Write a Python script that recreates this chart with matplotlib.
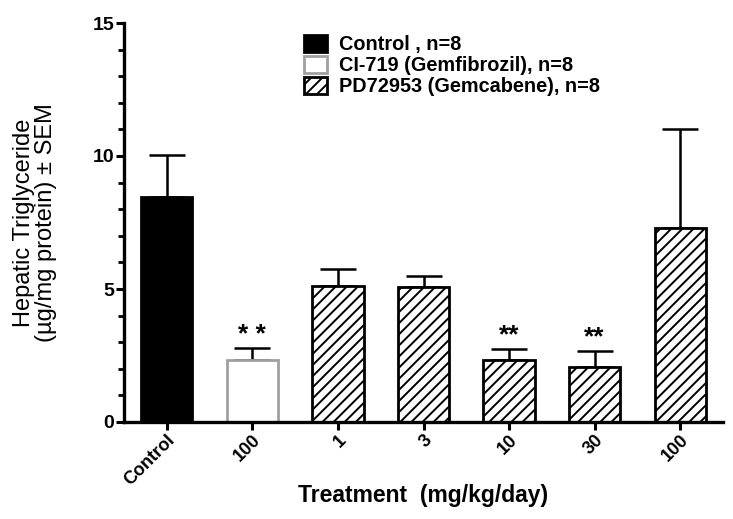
import matplotlib
matplotlib.use("Agg")
import matplotlib.pyplot as plt
import matplotlib.patches as mpatches
from matplotlib.ticker import MultipleLocator

categories = ["Control", "100", "1", "3", "10", "30", "100"]
means = [8.46, 2.33, 5.12, 5.06, 2.33, 2.06, 7.30]
sems = [1.58, 0.45, 0.63, 0.44, 0.41, 0.62, 3.71]
groups = ["control", "gem", "pd", "pd", "pd", "pd", "pd"]
stars = ["", "* *", "", "", "**", "**", ""]
legend_labels = ["Control , n=8", "CI-719 (Gemfibrozil), n=8", "PD72953 (Gemcabene), n=8"]

plt.rcParams['font.family'] = ['Liberation Sans', 'DejaVu Sans']
plt.rcParams['hatch.linewidth'] = 1.4

fig = plt.figure(figsize=(7.33, 5.19), dpi=100)
ax = fig.add_axes([124/733, 1-422/519, (723-124)/733, (422-23)/519])

styles = {
    "control": dict(facecolor="black", edgecolor="black", hatch=None),
    "gem": dict(facecolor="white", edgecolor="#a0a0a0", hatch=None),
    "pd": dict(facecolor="white", edgecolor="black", hatch="///"),
}

x = list(range(len(categories)))
for i, (m, s, g) in enumerate(zip(means, sems, groups)):
    st = styles[g]
    ax.bar(i, m, width=0.6, facecolor=st["facecolor"], edgecolor=st["edgecolor"],
           hatch=st["hatch"], linewidth=2.0, zorder=2)
    ax.errorbar(i, m, yerr=[[0], [s]], fmt='none', ecolor='black', elinewidth=1.8,
                capsize=13, capthick=1.8, zorder=1)
    if stars[i]:
        ax.text(i, m + s + 0.05, stars[i], ha='center', va='bottom', fontsize=19,
                fontweight='bold')

ax.set_xlim(-0.5, 6.5)
ax.set_ylim(0, 15)
ax.yaxis.set_major_locator(MultipleLocator(5))
ax.yaxis.set_minor_locator(MultipleLocator(1))
ax.set_xticks(x)
ax.set_xticklabels(categories, rotation=45, ha='right', rotation_mode='anchor',
                   fontsize=13, fontweight='bold')
for lab in ax.get_yticklabels():
    lab.set_fontweight('bold')
    lab.set_fontsize(14)

for sp in ['top', 'right']:
    ax.spines[sp].set_visible(False)
for sp in ['left', 'bottom']:
    ax.spines[sp].set_linewidth(2.4)
ax.tick_params(axis='both', which='major', width=2.2, length=6, pad=1)
ax.tick_params(axis='y', which='minor', width=2.0, length=4)

ax.set_xlabel("Treatment  (mg/kg/day)", fontsize=16.5, fontweight='bold')
ax.xaxis.set_label_coords(0.5, -0.155)
ax.set_ylabel("Hepatic Triglyceride\n(\u00b5g/mg protein) \u00b1 SEM", fontsize=17,
              linespacing=1.0)
ax.yaxis.set_label_coords(-0.112, 0.5)

handles = [mpatches.Patch(facecolor=styles[k]["facecolor"], edgecolor=styles[k]["edgecolor"],
                          hatch=styles[k]["hatch"], linewidth=2.0)
           for k in ["control", "gem", "pd"]]
leg = fig.legend(handles, legend_labels, loc='upper left', bbox_to_anchor=(304/733, 1-35/519),
                 frameon=False, prop=dict(family='Liberation Sans', weight='bold', size=14.3),
                 handlelength=1.15, handleheight=0.95, handletextpad=0.6, labelspacing=0.08,
                 borderpad=0, borderaxespad=0)

fig.savefig("out.png", dpi=100)
